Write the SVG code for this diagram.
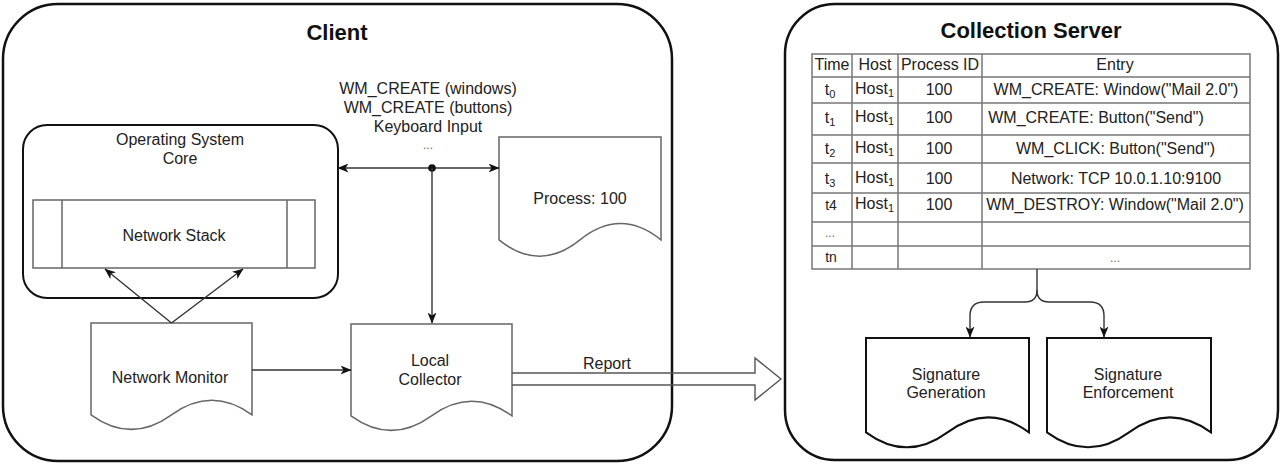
<svg xmlns="http://www.w3.org/2000/svg" width="1282" height="467" viewBox="0 0 1282 467">
<style>
text{font-family:"Liberation Sans",Arial,Helvetica,sans-serif;font-size:16px;fill:#222;text-anchor:middle}
.title{font-size:22px;font-weight:bold;fill:#111}
.outer{fill:none;stroke:#111;stroke-width:2.5}
.os{fill:none;stroke:#111;stroke-width:2}
.thin{fill:#fff;stroke:#666;stroke-width:1.5}
.sig{fill:#fff;stroke:#111;stroke-width:2}
.conn{fill:none;stroke:#333;stroke-width:1.4}
.grid{fill:none;stroke:#777;stroke-width:1.5}
.sub{font-size:11px}
.dots{font-size:12px;fill:#666}
</style>
<defs>
<marker id="arr" viewBox="0 0 11 9" markerWidth="11" markerHeight="9" refX="10.5" refY="4.5" orient="auto-start-reverse" markerUnits="userSpaceOnUse">
<path d="M0,0 L11,4.5 L0,9 L3,4.5 Z" fill="#111"/>
</marker>
</defs>

<g id="client">
<rect class="outer" x="3" y="4" width="669" height="457" rx="55" ry="55"/>
<text class="title" x="337" y="40">Client</text>
</g>

<g id="server">
<rect class="outer" x="785" y="4" width="493" height="456" rx="50" ry="50"/>
<text class="title" x="1031" y="38">Collection Server</text>
</g>

<g id="os-core">
<rect class="os" x="23" y="125" width="315" height="173" rx="24" ry="24"/>
<text x="180" y="144.5">Operating System</text>
<text x="180" y="163.5">Core</text>
</g>

<g id="network-stack">
<rect class="thin" x="33" y="200" width="282" height="68"/>
<line x1="62" y1="200" x2="62" y2="268" stroke="#666" stroke-width="1.5"/>
<line x1="287" y1="200" x2="287" y2="268" stroke="#666" stroke-width="1.5"/>
<text x="174" y="240.5">Network Stack</text>
</g>

<g id="process">
<path class="thin" d="M499,137 L661,137 L661,239.85 Q620.5,207.2 580,239.85 Q539.5,272.5 499,239.85 Z"/>
<text x="580" y="203.5">Process: 100</text>
</g>

<g id="network-monitor">
<path class="thin" d="M91,323 L252,323 L252,414.8 Q211.75,385.64 171.5,414.8 Q131.25,443.96 91,414.8 Z"/>
<text x="170" y="382.5">Network Monitor</text>
</g>

<g id="local-collector">
<path class="thin" d="M351,324 L512,324 L512,415.8 Q471.75,386.64 431.5,415.8 Q391.25,444.96 351,415.8 Z"/>
<text x="430" y="365.5">Local</text>
<text x="430" y="384.5">Collector</text>
</g>

<g id="event-labels">
<text x="428" y="93.5">WM_CREATE (windows)</text>
<text x="428" y="112.5">WM_CREATE (buttons)</text>
<text x="428" y="131.5">Keyboard Input</text>
<text class="dots" x="428" y="149">...</text>
</g>

<g id="table">
<rect class="grid" x="812" y="54" width="438" height="215"/>
<path class="grid" d="M852,54 V269 M898,54 V269 M982,54 V269 M812,77 H1250 M812,103 H1250 M812,135 H1250 M812,163 H1250 M812,193 H1250 M812,222 H1250 M812,246 H1250"/>
<text x="832" y="70">Time</text>
<text x="875" y="70">Host</text>
<text x="940" y="70">Process ID</text>
<text x="1115" y="70">Entry</text>

<text x="830" y="95">t<tspan class="sub" dy="3">0</tspan></text>
<text x="855" y="94" style="text-anchor:start">Host<tspan class="sub" dy="3">1</tspan></text>
<text x="939" y="95">100</text>
<text x="1116" y="95">WM_CREATE: Window("Mail 2.0")</text>

<text x="830" y="123">t<tspan class="sub" dy="3">1</tspan></text>
<text x="855" y="122" style="text-anchor:start">Host<tspan class="sub" dy="3">1</tspan></text>
<text x="939" y="123">100</text>
<text x="1096" y="123">WM_CREATE: Button("Send")</text>

<text x="830" y="153.5">t<tspan class="sub" dy="3">2</tspan></text>
<text x="855" y="152.5" style="text-anchor:start">Host<tspan class="sub" dy="3">1</tspan></text>
<text x="939" y="153.5">100</text>
<text x="1115.5" y="153.5">WM_CLICK: Button("Send")</text>

<text x="830" y="183.5">t<tspan class="sub" dy="3">3</tspan></text>
<text x="855" y="182.5" style="text-anchor:start">Host<tspan class="sub" dy="3">1</tspan></text>
<text x="939" y="183.5">100</text>
<text x="1116" y="183.5">Network: TCP 10.0.1.10:9100</text>

<text x="831" y="209.5" style="font-size:14px">t4</text>
<text x="855" y="208.5" style="text-anchor:start">Host<tspan class="sub" dy="3">1</tspan></text>
<text x="939" y="209.5">100</text>
<text x="1115" y="209.5">WM_DESTROY: Window("Mail 2.0")</text>

<text class="dots" x="830" y="237">...</text>
<text x="831" y="262" style="font-size:14px">tn</text>
<text class="dots" x="1115" y="262">...</text>
</g>

<g id="signature-generation">
<path class="sig" d="M866,338 L1029,338 L1029,432.35 Q988.25,402.38 947.5,432.35 Q906.75,462.32 866,432.35 Z"/>
<text x="946" y="379.5">Signature</text>
<text x="946" y="397.5">Generation</text>
</g>

<g id="signature-enforcement">
<path class="sig" d="M1047,338 L1211,338 L1211,432.35 Q1170,402.38 1129,432.35 Q1088,462.32 1047,432.35 Z"/>
<text x="1128" y="379.5">Signature</text>
<text x="1128" y="397.5">Enforcement</text>
</g>

<g id="connectors">
<line class="conn" x1="338" y1="168" x2="499" y2="168" marker-start="url(#arr)" marker-end="url(#arr)"/>
<circle cx="432" cy="168" r="3.8" fill="#111"/>
<line class="conn" x1="432" y1="168" x2="432" y2="323" marker-end="url(#arr)"/>
<line class="conn" x1="252" y1="370" x2="351" y2="370" marker-end="url(#arr)"/>
<line class="conn" x1="171.5" y1="323" x2="105" y2="269" marker-end="url(#arr)"/>
<line class="conn" x1="171.5" y1="323" x2="243" y2="269" marker-end="url(#arr)"/>
<path d="M512,373 L755,373 L755,358 L781,379 L755,400 L755,385 L512,385" fill="none" stroke="#555" stroke-width="1.4"/>
<text x="607" y="368.5">Report</text>
<path class="conn" d="M1037,269 L1037,290 Q1037,302 1025,302 L984,302 Q970,302 970,316 L970,337" marker-end="url(#arr)"/>
<path class="conn" d="M1037,290 Q1037,302 1049,302 L1090,302 Q1104,302 1104,316 L1104,337" marker-end="url(#arr)"/>
</g>
</svg>
